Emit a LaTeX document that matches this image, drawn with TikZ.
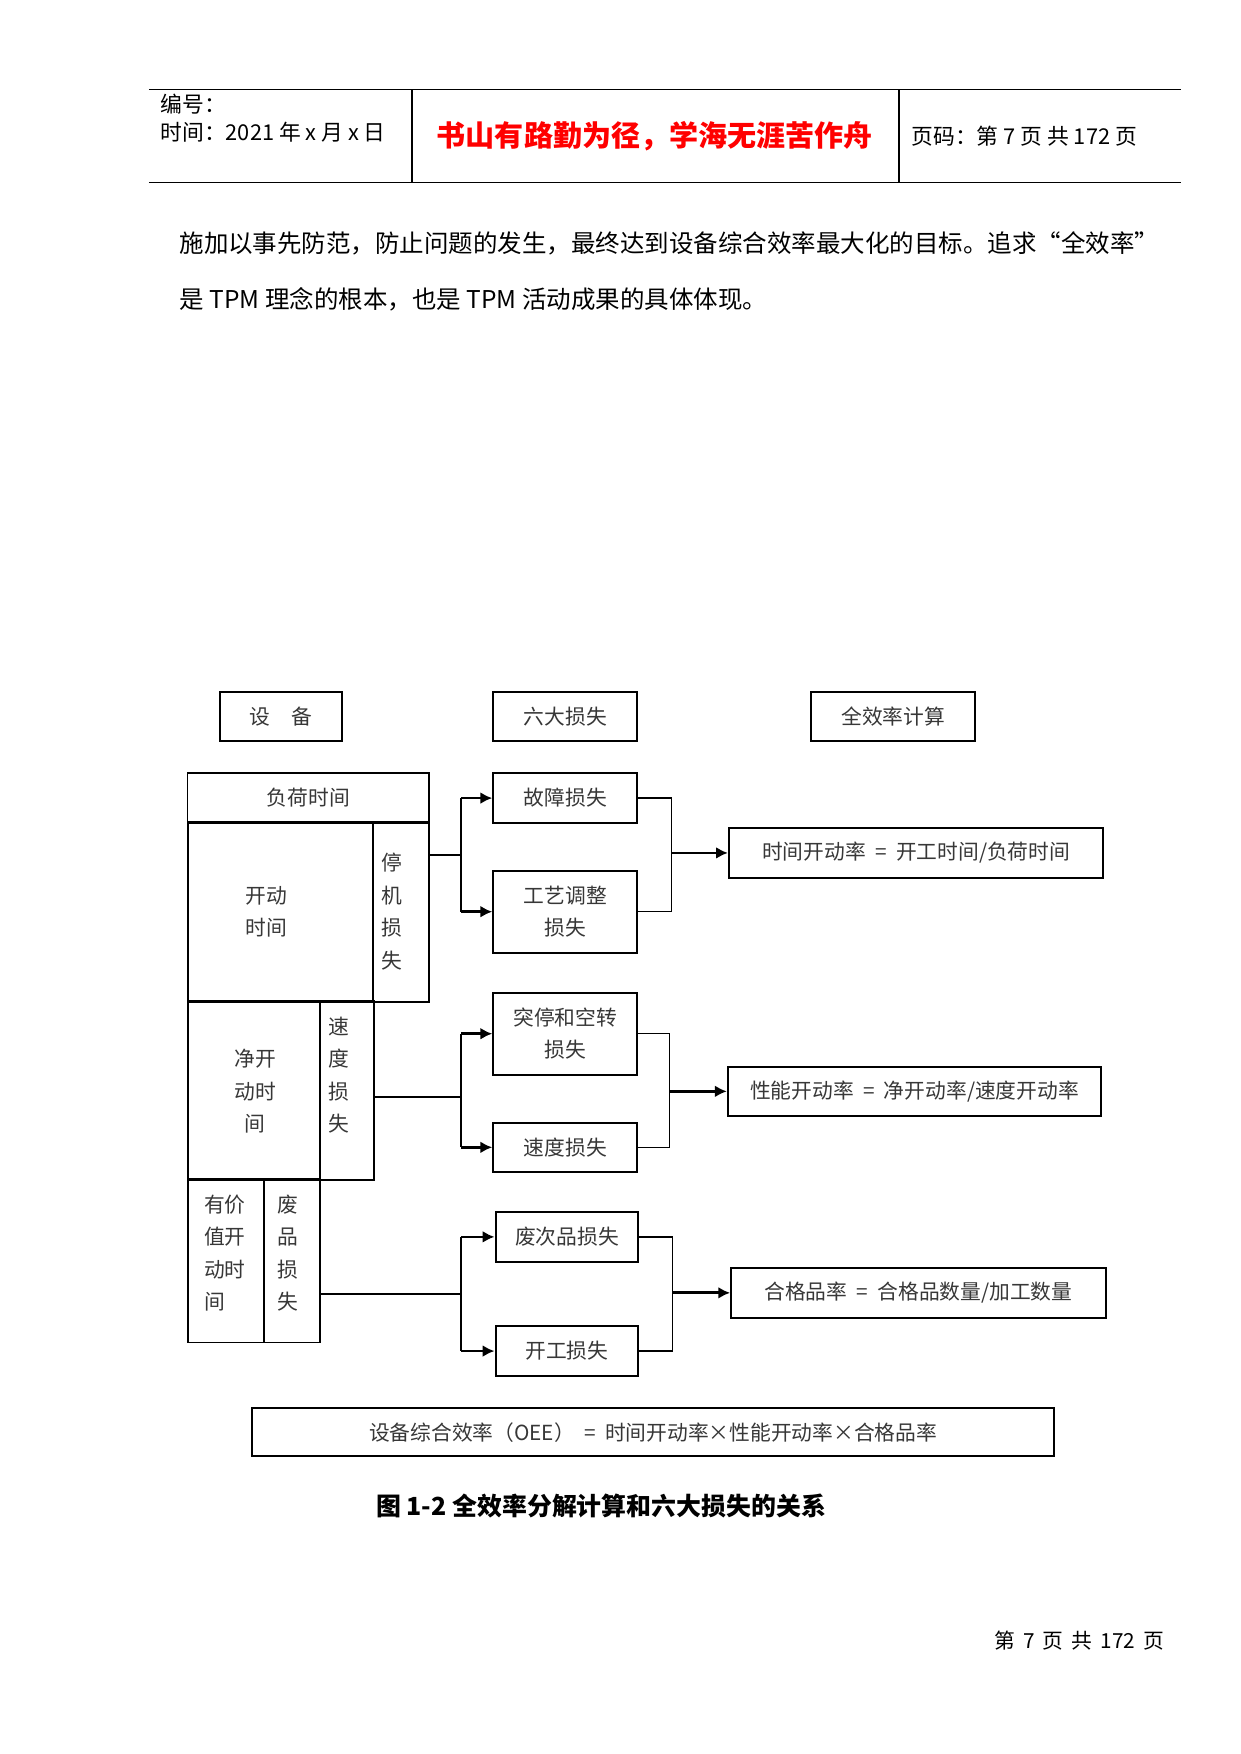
\documentclass[tikz,border=0pt]{standalone}
\usepackage{fontspec}
\setmainfont{Noto Sans CJK SC}
\usetikzlibrary{arrows.meta}
\definecolor{titlered}{RGB}{255,0,0}
\definecolor{labelgray}{RGB}{55,55,55}
\newcommand{\diagfont}{\fontsize{10}{15.7}\selectfont}
\tikzset{
  frame/.style={draw=black, line width=1pt, inner sep=0pt, minimum height=0.838cm,
    font=\diagfont, text=labelgray, align=center},
  cell/.style={frame, line width=0.9pt},
  celltext/.style={inner sep=0pt, font=\diagfont, text=labelgray, align=center},
  txt/.style={inner sep=0pt, anchor=west, align=left},
  link/.style={line width=0.7pt},
  feed/.style={line width=1.3pt, -{Latex[length=2mm,width=2mm]}},
  rule/.style={line width=0.8pt}
}

\begin{document}
\begin{tikzpicture}[x=0.01895cm, y=-0.01895cm]
  \useasboundingbox (0,0) rectangle (1108.5,1567);

  % Page header
  \draw[rule] (133,80) -- (1055,80);
  \draw[rule] (133,163) -- (1055,163);
  \draw[rule] (368,80) -- (368,163);
  \draw[rule] (803,80) -- (803,163);
  \node[txt, font=\fontsize{10.5}{13.5}\selectfont] (serial) at (143,106) {编号：\\时间：2021 年 x 月 x 日};
  \node[font=\bfseries\fontsize{14}{16}\selectfont, text=titlered] (motto) at (585,122) {书山有路勤为径，学海无涯苦作舟};
  \node[txt, font=\fontsize{10.5}{13.5}\selectfont] (pageno) at (814,122) {页码：第 7 页 共 172 页};

  % Body text
  \node[txt, font=\fontsize{11.8}{14}\selectfont] (para1) at (160,217) {施加以事先防范，防止问题的发生，最终达到设备综合效率最大化的目标。追求“全效率”};
  \node[txt, font=\fontsize{11.8}{14}\selectfont] (para2) at (160,267) {是 TPM 理念的根本，也是 TPM 活动成果的具体体现。};

  % Column heads
  \node[frame, minimum width=2.056cm] (equip) at (251,640) {设　备};
  \node[frame, minimum width=2.437cm] (losses) at (505,640) {六大损失};
  \node[frame, minimum width=2.780cm] (calc) at (798,640) {全效率计算};

  % Equipment time cells
  \node[cell, minimum width=4.094cm] (load) at (275.5,713) {负荷时间};
  \node[cell, minimum width=3.142cm, minimum height=3.046cm] (run) at (250.5,815) {};
  \node[cell, minimum width=0.952cm, minimum height=3.046cm] (stop) at (358,815) {};
  \node[cell, minimum width=2.247cm, minimum height=3.027cm] (net) at (227,974.5) {};
  \node[cell, minimum width=0.914cm, minimum height=3.027cm] (speed) at (310,974.5) {};
  \node[cell, minimum width=1.295cm, minimum height=2.761cm] (value) at (202,1126.5) {};
  \node[cell, minimum width=0.952cm, minimum height=2.761cm] (scrap) at (261,1126.5) {};
  \node[celltext] (runtxt) at (238,814.5) {开动\\时间};
  \node[celltext] (stoptxt) at (350,814.5) {停\\机\\损\\失};
  \node[celltext] (nettxt) at (228,975) {净开\\动时\\间};
  \node[celltext] (speedtxt) at (303,960.5) {速\\度\\损\\失};
  \node[celltext, align=left] (valuetxt) at (201,1119.5) {有价\\值开\\动时\\间};
  \node[celltext] (scraptxt) at (257,1119.5) {废\\品\\损\\失};

  % Six big losses
  \node[frame, minimum width=2.437cm] (fault) at (505,713) {故障损失};
  \node[frame, minimum width=2.437cm, minimum height=1.390cm] (setup) at (505,814.5) {工艺调整\\损失};
  \node[frame, minimum width=2.437cm, minimum height=1.390cm] (stall) at (505,923.5) {突停和空转\\损失};
  \node[frame, minimum width=2.437cm] (slow) at (505,1025) {速度损失};
  \node[frame, minimum width=2.418cm] (defect) at (506.5,1105) {废次品损失};
  \node[frame, minimum width=2.418cm] (startup) at (506.5,1207) {开工损失};

  % Rates
  \node[frame, minimum width=6.340cm] (avail) at (818.5,762) {时间开动率 \ = \ 开工时间/负荷时间};
  \node[frame, minimum width=6.321cm] (perf) at (817,975) {性能开动率 \ = \ 净开动率/速度开动率};
  \node[frame, minimum width=6.340cm] (quality) at (820.5,1155) {合格品率 \ = \ 合格品数量/加工数量};
  \node[frame, minimum width=13.576cm, minimum height=0.819cm] (oee) at (583.5,1279.5) {设备综合效率（OEE） \ = \ 时间开动率×性能开动率×合格品率};

  % Downtime branch
  \coordinate (j1) at (412,764);
  \coordinate (b1) at (600,764);
  \draw[link] (stop.east |- j1) -- (j1);
  \draw[link] (j1 |- fault) -- (j1 |- setup);
  \draw[feed] (j1 |- fault) -- (fault);
  \draw[feed] (j1 |- setup) -- (setup);
  \draw[link] (fault.east) -- (b1 |- fault.east) -- (b1 |- setup.east) -- (setup.east);
  \draw[feed] (b1 |- avail) -- (avail);

  % Speed branch
  \coordinate (j2) at (412,980);
  \coordinate (b2) at (598,975);
  \draw[link] (speed.east |- j2) -- (j2);
  \draw[link] (j2 |- stall) -- (j2 |- slow);
  \draw[feed] (j2 |- stall) -- (stall);
  \draw[feed] (j2 |- slow) -- (slow);
  \draw[link] (stall.east) -- (b2 |- stall.east) -- (b2 |- slow.east) -- (slow.east);
  \draw[feed] (b2 |- perf) -- (perf);

  % Scrap branch
  \coordinate (j3) at (412,1156);
  \coordinate (b3) at (601,1155);
  \draw[link] (scrap.east |- j3) -- (j3);
  \draw[link] (j3 |- defect) -- (j3 |- startup);
  \draw[feed] (j3 |- defect) -- (defect);
  \draw[feed] (j3 |- startup) -- (startup);
  \draw[link] (defect.east) -- (b3 |- defect.east) -- (b3 |- startup.east) -- (startup.east);
  \draw[feed] (b3 |- quality) -- (quality);

  % Caption and footer
  \node[font=\bfseries\fontsize{12}{14}\selectfont] (caption) at (537,1345) {图 1-2 全效率分解计算和六大损失的关系};
  \node[txt, font=\fontsize{10}{12}\selectfont] (footer) at (888,1466) {第 \,7 \,页 \,共 \,172 \,页};
\end{tikzpicture}
\end{document}
